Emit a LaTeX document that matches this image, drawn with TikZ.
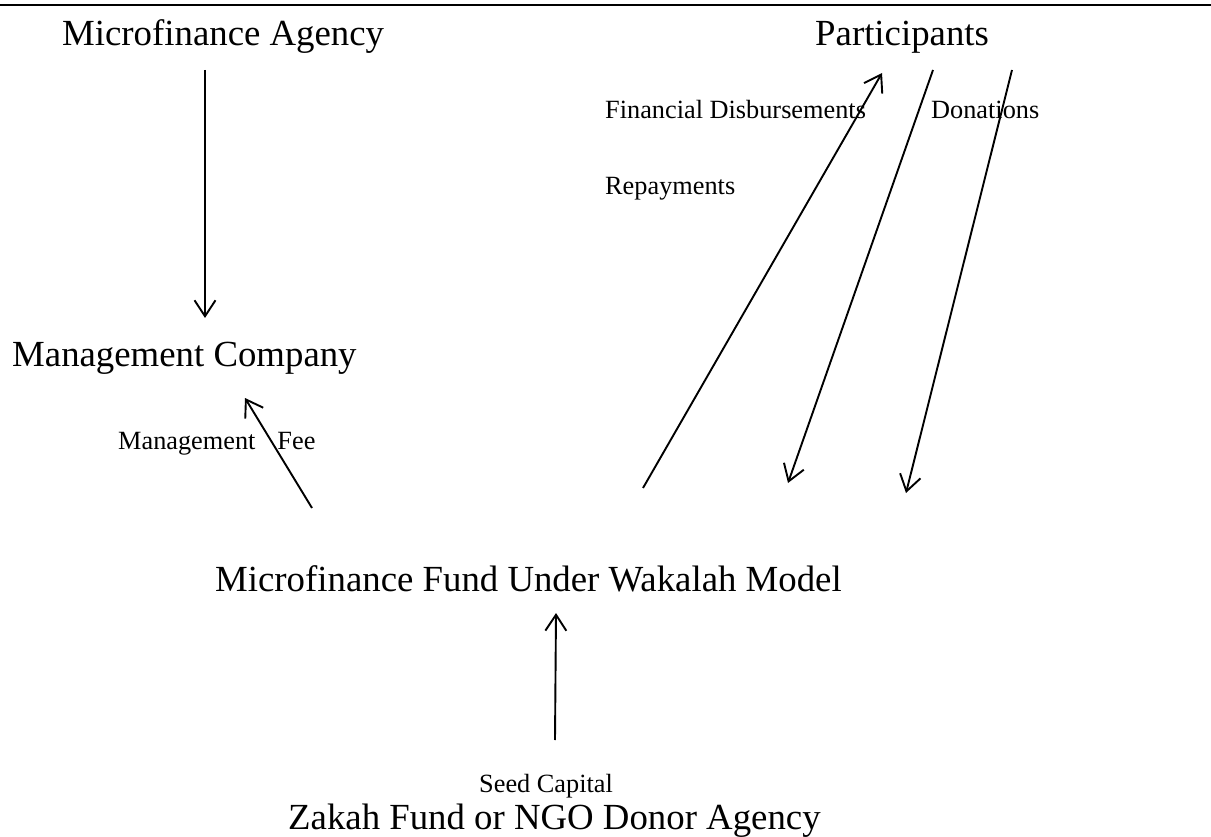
\documentclass[tikz,border=0pt]{standalone}
\usepackage{fontspec}
\setmainfont{Liberation Serif}
\usetikzlibrary{arrows.meta}
\tikzset{
  bigtxt/.style={anchor=base west, inner sep=0pt, font=\fontsize{36.8}{40}\selectfont},
  smalltxt/.style={anchor=base west, inner sep=0pt, font=\fontsize{26.3}{29}\selectfont},
  flow/.style={line width=1.9pt, -{Straight Barb[length=16pt,width=21pt,line width=1.9pt]}},
  plain/.style={line width=1.9pt}
}
\begin{document}
\begin{tikzpicture}[x=1pt,y=-1pt]
\useasboundingbox (0,0) rectangle (1211,837);
\draw[line width=2.2pt] (0,5) -- (1211,5);
% labels
\node[bigtxt] (ma) at (62,46) {Microfinance Agency};
\node[bigtxt] (pa) at (815,46) {Participants};
\node[bigtxt] (mc) at (12,366) {Management Company};
\node[bigtxt] (mf) at (215,591) {Microfinance Fund Under Wakalah Model};
\node[bigtxt] (zf) at (288,829) {Zakah Fund or NGO Donor Agency};
\node[smalltxt] (fd) at (605,119) {Financial Disbursements};
\node[smalltxt] (do) at (931,119) {Donations};
\node[smalltxt] (re) at (605,195) {Repayments};
\node[smalltxt] (fee) at (118,449) {Management\hspace{22pt}Fee};
\node[smalltxt] (sc) at (479,792) {Seed Capital};
% end points
\coordinate (a1s) at (205,70);   \coordinate (a1e) at (205,318);
\coordinate (a2s) at (312,508);  \coordinate (a2e) at (245,398);
\coordinate (a3s) at (643,488);  \coordinate (a3e) at (882,73);
\coordinate (a4s) at (933,70);   \coordinate (a4e) at (788,483);
\coordinate (a5s) at (1012,70);  \coordinate (a5e) at (906,493);
\coordinate (a6s) at (555,740);  \coordinate (a6e) at (556,613);
% connectors
\draw[flow] (a1s) -- (a1e);
\draw[flow] (a2s) -- (a2e);
\draw[flow] (a3s) -- (a3e);
\draw[flow] (a4s) -- (a4e);
\draw[flow] (a5s) -- (a5e);
\draw[flow] (a6s) -- (a6e);
\end{tikzpicture}
\end{document}
